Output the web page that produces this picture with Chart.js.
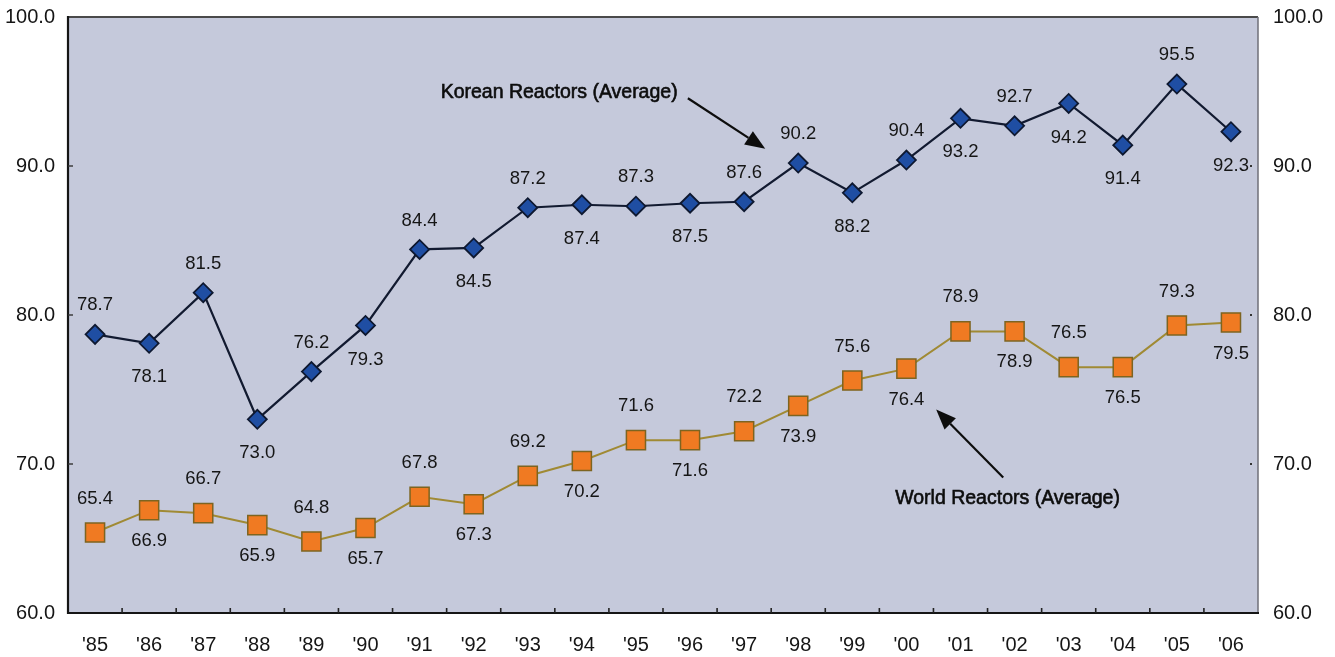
<!DOCTYPE html>
<html>
<head>
<meta charset="utf-8">
<script src="https://cdn.jsdelivr.net/npm/chart.js@4/dist/chart.umd.min.js"></script>
<style>
  html, body { margin: 0; padding: 0; background: #ffffff; }
  #wrap { width: 1335px; height: 657px; }
</style>
</head>
<body>
<div id="wrap"><canvas id="c" width="1335" height="657"></canvas></div>
<script>
// Capacity factor by year, averages for Korean and world reactors (%)
const years = ["'85", "'86", "'87", "'88", "'89", "'90", "'91", "'92", "'93", "'94", "'95",
               "'96", "'97", "'98", "'99", "'00", "'01", "'02", "'03", "'04", "'05", "'06"];
const koreanAvg = [78.7, 78.1, 81.5, 73.0, 76.2, 79.3, 84.4, 84.5, 87.2, 87.4, 87.3,
                   87.5, 87.6, 90.2, 88.2, 90.4, 93.2, 92.7, 94.2, 91.4, 95.5, 92.3];
const worldAvg = [65.4, 66.9, 66.7, 65.9, 64.8, 65.7, 67.8, 67.3, 69.2, 70.2, 71.6,
                  71.6, 72.2, 73.9, 75.6, 76.4, 78.9, 78.9, 76.5, 76.5, 79.3, 79.5];
const yTicks = [60, 70, 80, 90, 100];

// Which side of each point its value label sits on (1 = above, -1 = below)
const koreanLabelSide = [1, -1, 1, -1, 1, -1, 1, -1, 1, -1, 1, -1, 1, 1, -1, 1, -1, 1, -1, -1, 1, -1];
const worldLabelSide = [1, -1, 1, -1, 1, -1, 1, -1, 1, -1, 1, -1, 1, -1, 1, -1, 1, -1, 1, -1, 1, -1];

const FONT = "'Liberation Sans', Arial, Helvetica, sans-serif";
const PLOT_BG = '#c5c9db';
const TEXT = '#151515';

// Callout arrows, anchored in data units (category index, value)
const callouts = [
  { text: 'Korean Reactors (Average)', tx: 8.58, ty: 94.9, from: [10.96, 94.55], to: [12.39, 91.15] },
  { text: 'World Reactors (Average)', tx: 16.87, ty: 67.7, from: [16.79, 69.1], to: [15.55, 73.65] }
];

const plotBackground = {
  id: 'plotBackground',
  beforeDraw(chart) {
    const { ctx, chartArea: a } = chart;
    ctx.save();
    ctx.fillStyle = PLOT_BG;
    ctx.fillRect(a.left, a.top, a.right - a.left, a.bottom - a.top);
    ctx.restore();
  }
};

const frame = {
  id: 'frame',
  afterDatasetsDraw(chart) {
    const { ctx, chartArea: a, scales } = chart;
    ctx.save();
    // top and right edges
    ctx.lineWidth = 2;
    ctx.strokeStyle = '#4a4a4a';
    ctx.beginPath(); ctx.moveTo(a.left, a.top); ctx.lineTo(a.right, a.top); ctx.stroke();
    ctx.lineWidth = 1.5;
    ctx.strokeStyle = '#6f6f78';
    ctx.beginPath(); ctx.moveTo(a.right, a.top); ctx.lineTo(a.right, a.bottom); ctx.stroke();
    // left and bottom axes
    ctx.lineWidth = 2.2;
    ctx.strokeStyle = '#151515';
    ctx.beginPath(); ctx.moveTo(a.left, a.top - 1); ctx.lineTo(a.left, a.bottom); ctx.lineTo(a.right + 1, a.bottom); ctx.stroke();

    // inward tick marks on the category axis, between categories
    const x = scales.x;
    ctx.lineWidth = 1.6;
    ctx.strokeStyle = '#222';
    const n = years.length;
    for (let i = 1; i < n; i++) {
      const px = (x.getPixelForValue(i - 1) + x.getPixelForValue(i)) / 2;
      ctx.beginPath(); ctx.moveTo(px, a.bottom); ctx.lineTo(px, a.bottom - 5); ctx.stroke();
    }
    // inward ticks on the value axes
    const y = scales.y;
    yTicks.slice(1, -1).forEach(v => {
      const py = y.getPixelForValue(v);
      ctx.strokeStyle = '#333';
      ctx.lineWidth = 1.4;
      ctx.beginPath(); ctx.moveTo(a.left, py); ctx.lineTo(a.left + 5, py); ctx.stroke();
      ctx.fillStyle = '#333';
      ctx.fillRect(a.right - 8, py - 1, 2, 2);
    });
    ctx.restore();
  }
};

const valueLabels = {
  id: 'valueLabels',
  afterDatasetsDraw(chart) {
    const { ctx } = chart;
    const specs = [
      { idx: 0, values: koreanAvg, sides: koreanLabelSide, up: 29, down: 34 },
      { idx: 1, values: worldAvg, sides: worldLabelSide, up: 34, down: 31 }
    ];
    ctx.save();
    ctx.font = '18.5px ' + FONT;
    ctx.fillStyle = TEXT;
    ctx.textAlign = 'center';
    ctx.textBaseline = 'middle';
    specs.forEach(s => {
      const meta = chart.getDatasetMeta(s.idx);
      meta.data.forEach((pt, i) => {
        const off = s.sides[i] > 0 ? -s.up : s.down;
        ctx.fillText(s.values[i].toFixed(1), pt.x, pt.y + off);
      });
    });
    ctx.restore();
  }
};

const calloutPlugin = {
  id: 'callouts',
  afterDatasetsDraw(chart) {
    const { ctx, scales } = chart;
    const X = v => scales.x.getPixelForValue(v);
    const Y = v => scales.y.getPixelForValue(v);
    ctx.save();
    callouts.forEach(c => {
      ctx.font = '19.5px ' + FONT;
      ctx.fillStyle = '#0d0d0d';
      ctx.strokeStyle = '#0d0d0d';
      ctx.lineWidth = 0.6;
      ctx.textAlign = 'center';
      ctx.textBaseline = 'middle';
      ctx.fillText(c.text, X(c.tx), Y(c.ty));
      ctx.strokeText(c.text, X(c.tx), Y(c.ty));

      const x0 = X(c.from[0]), y0 = Y(c.from[1]);
      const x1 = X(c.to[0]), y1 = Y(c.to[1]);
      const ang = Math.atan2(y1 - y0, x1 - x0);
      const headLen = 20, headW = 8;
      const bx = x1 - headLen * Math.cos(ang), by = y1 - headLen * Math.sin(ang);
      ctx.lineWidth = 2.2;
      ctx.beginPath(); ctx.moveTo(x0, y0); ctx.lineTo(bx, by); ctx.stroke();
      ctx.beginPath();
      ctx.moveTo(x1, y1);
      ctx.lineTo(bx + headW * Math.sin(ang), by - headW * Math.cos(ang));
      ctx.lineTo(bx - headW * Math.sin(ang), by + headW * Math.cos(ang));
      ctx.closePath();
      ctx.fill();
    });
    ctx.restore();
  }
};

const tickFont = { family: FONT, size: 20 };

// value axes: fixed width, and no extra room reserved above/below for the end labels
function fixValueAxis(width) {
  return s => { s.width = width; s.paddingTop = 0; s.paddingBottom = 0; };
}

new Chart(document.getElementById('c'), {
  type: 'line',
  data: {
    labels: years,
    datasets: [
      {
        label: 'Korean Reactors (Average)',
        data: koreanAvg,
        yAxisID: 'y',
        borderColor: '#121a30',
        borderWidth: 2.2,
        pointStyle: 'rectRot',
        pointRadius: 9.5,
        pointHoverRadius: 9.5,
        pointBackgroundColor: '#1f4ea3',
        pointBorderColor: '#0e1830',
        pointBorderWidth: 1.8,
        tension: 0
      },
      {
        label: 'World Reactors (Average)',
        data: worldAvg,
        yAxisID: 'y',
        borderColor: '#a08a34',
        borderWidth: 2,
        pointStyle: 'rect',
        pointRadius: 13.5,
        pointHoverRadius: 13.5,
        pointBackgroundColor: '#f07a22',
        pointBorderColor: '#7d6420',
        pointBorderWidth: 1.5,
        tension: 0
      }
    ]
  },
  options: {
    responsive: false,
    animation: false,
    devicePixelRatio: 1,
    layout: { padding: { top: 17, left: 0, right: 0, bottom: 0 } },
    plugins: { legend: { display: false }, tooltip: { enabled: false } },
    scales: {
      x: {
        offset: true,
        grid: { display: false, drawTicks: false },
        border: { display: false },
        ticks: { font: tickFont, color: TEXT, padding: 20, maxRotation: 0, autoSkip: false },
        afterFit(s) { s.height = 44; s.paddingLeft = 0; s.paddingRight = 0; }
      },
      y: {
        position: 'left',
        min: 60, max: 100,
        grid: { display: false, drawTicks: false },
        border: { display: false },
        ticks: { stepSize: 10, font: tickFont, color: TEXT, padding: 13,
                 callback: v => Number(v).toFixed(1) },
        afterFit: fixValueAxis(68)
      },
      y2: {
        position: 'right',
        min: 60, max: 100,
        grid: { display: false, drawTicks: false },
        border: { display: false },
        ticks: { stepSize: 10, font: tickFont, color: TEXT, padding: 15,
                 callback: v => Number(v).toFixed(1) },
        afterFit: fixValueAxis(77)
      }
    }
  },
  plugins: [plotBackground, frame, valueLabels, calloutPlugin]
});
</script>
</body>
</html>
